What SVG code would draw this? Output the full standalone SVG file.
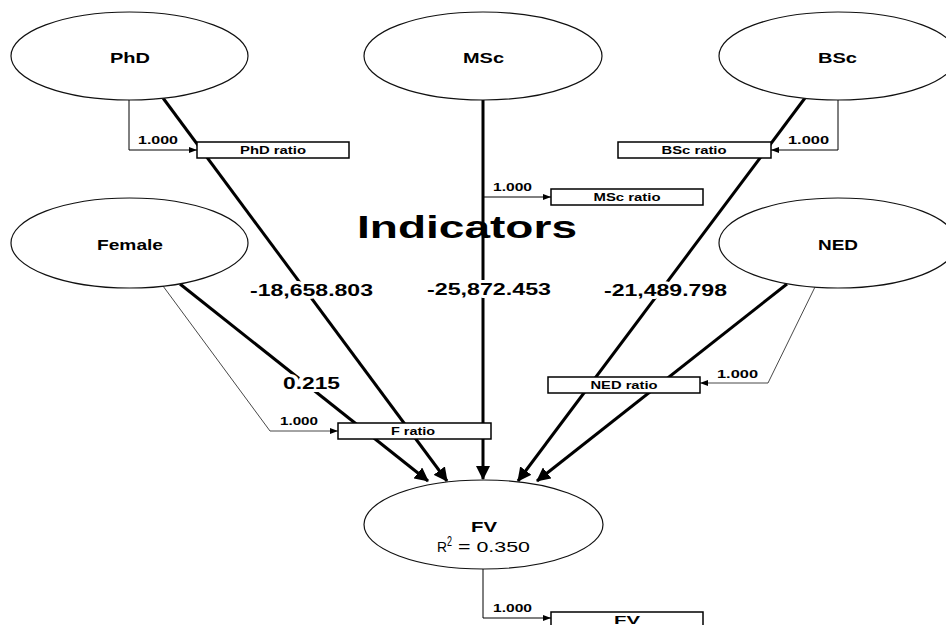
<svg xmlns="http://www.w3.org/2000/svg" width="946" height="625" viewBox="0 0 946 625">
  <style>
    .ell { fill: #ffffff; stroke: #111111; stroke-width: 1.2; }
    .box { fill: #ffffff; stroke: #000000; stroke-width: 1.5; }
    .thick { fill: none; stroke: #000000; stroke-width: 3; marker-end: url(#big); }
    .thin { fill: none; stroke: #000000; stroke-width: 1; marker-end: url(#small); }
    .thinf { fill: none; stroke: #333333; stroke-width: 0.9; marker-end: url(#small); }
    .nl { font-family: "Liberation Sans", Arial, sans-serif; font-weight: bold; font-size: 14px; text-anchor: middle; fill: #000; }
    .bl { font-family: "Liberation Sans", Arial, sans-serif; font-weight: bold; font-size: 10px; text-anchor: middle; fill: #000; }
    .ll { font-family: "Liberation Sans", Arial, sans-serif; font-weight: bold; font-size: 10px; fill: #000; }
    .coef { font-family: "Liberation Sans", Arial, sans-serif; font-weight: bold; font-size: 16px; fill: #000; stroke: #ffffff; stroke-width: 6; paint-order: stroke; stroke-linejoin: round; }
    .big { font-family: "Liberation Sans", Arial, sans-serif; font-weight: bold; font-size: 31px; fill: #000; }
    .r2 { font-family: "Liberation Sans", Arial, sans-serif; font-size: 14px; fill: #000; }
  </style>
  <defs>
    <marker id="big" markerUnits="userSpaceOnUse" markerWidth="14" markerHeight="14" viewBox="0 0 14 14" refX="13" refY="7" orient="auto">
      <path d="M0,0 L14,7 L0,14 z" fill="#000"/>
    </marker>
    <marker id="small" markerUnits="userSpaceOnUse" markerWidth="8" markerHeight="6" viewBox="0 0 8 6" refX="8" refY="3" orient="auto">
      <path d="M0,0 L8,3 L0,6 z" fill="#000"/>
    </marker>
  </defs>
  <rect width="946" height="625" fill="#ffffff"/>

  <text class="big" x="357" y="238" textLength="220" lengthAdjust="spacingAndGlyphs">Indicators</text>

  <g id="connectors">
    <path class="thin" d="M129,100 V150 H197"/>
    <path class="thin" d="M483,197 H551"/>
    <path class="thin" d="M838,100 V150 H771"/>
    <path class="thinf" d="M163,286 L270,431 H338"/>
    <path class="thinf" d="M815,287 L768,383 H700"/>
    <path class="thin" d="M483,569 V618 H551"/>

    <path class="thick" d="M163,98 L447,481"/>
    <path class="thick" d="M483,100 L483,479"/>
    <path class="thick" d="M805,98 L518,481"/>
    <path class="thick" d="M180,284 L428,481"/>
    <path class="thick" d="M787,284 L537,481"/>

    <text class="ll" x="138" y="144" textLength="40" lengthAdjust="spacingAndGlyphs">1.000</text>
    <text class="ll" x="493" y="191" textLength="39" lengthAdjust="spacingAndGlyphs">1.000</text>
    <text class="ll" x="788" y="144" textLength="41" lengthAdjust="spacingAndGlyphs">1.000</text>
    <text class="ll" x="280" y="425" textLength="38" lengthAdjust="spacingAndGlyphs">1.000</text>
    <text class="ll" x="717" y="378" textLength="41" lengthAdjust="spacingAndGlyphs">1.000</text>
    <text class="ll" x="493" y="612" textLength="39" lengthAdjust="spacingAndGlyphs">1.000</text>

    <text class="coef" x="250" y="296" textLength="123" lengthAdjust="spacingAndGlyphs">-18,658.803</text>
    <text class="coef" x="427" y="295" textLength="124" lengthAdjust="spacingAndGlyphs">-25,872.453</text>
    <text class="coef" x="604" y="296" textLength="123" lengthAdjust="spacingAndGlyphs">-21,489.798</text>
    <text class="coef" x="283" y="389" textLength="57" lengthAdjust="spacingAndGlyphs">0.215</text>
  </g>

  <g id="node-phd">
    <ellipse class="ell" cx="129.5" cy="56" rx="118.5" ry="44"/>
    <text class="nl" x="130" y="63" textLength="40" lengthAdjust="spacingAndGlyphs">PhD</text>
  </g>
  <g id="node-msc">
    <ellipse class="ell" cx="483" cy="56" rx="119" ry="44"/>
    <text class="nl" x="483.5" y="63" textLength="41" lengthAdjust="spacingAndGlyphs">MSc</text>
  </g>
  <g id="node-bsc">
    <ellipse class="ell" cx="838" cy="56" rx="119" ry="44"/>
    <text class="nl" x="837.5" y="63" textLength="39" lengthAdjust="spacingAndGlyphs">BSc</text>
  </g>
  <g id="node-female">
    <ellipse class="ell" cx="129.5" cy="243" rx="118.5" ry="45"/>
    <text class="nl" x="130" y="250" textLength="66" lengthAdjust="spacingAndGlyphs">Female</text>
  </g>
  <g id="node-ned">
    <ellipse class="ell" cx="838" cy="243" rx="119" ry="45"/>
    <text class="nl" x="838" y="250" textLength="40" lengthAdjust="spacingAndGlyphs">NED</text>
  </g>
  <g id="node-fv">
    <ellipse class="ell" cx="483.5" cy="524.5" rx="119.5" ry="44.5"/>
    <text class="nl" x="484" y="532" textLength="26" lengthAdjust="spacingAndGlyphs">FV</text>
    <text class="r2" x="437" y="552" textLength="10" lengthAdjust="spacingAndGlyphs">R</text>
    <text class="r2" x="447" y="546" font-size="9" textLength="5" lengthAdjust="spacingAndGlyphs">2</text>
    <text class="r2" x="458" y="552" textLength="72" lengthAdjust="spacingAndGlyphs">= 0.350</text>
  </g>

  <g id="box-phd-ratio">
    <rect class="box" x="197" y="142" width="152" height="16"/>
    <text class="bl" x="273" y="154" textLength="66" lengthAdjust="spacingAndGlyphs">PhD ratio</text>
  </g>
  <g id="box-msc-ratio">
    <rect class="box" x="551" y="189" width="152" height="16"/>
    <text class="bl" x="627" y="201" textLength="67" lengthAdjust="spacingAndGlyphs">MSc ratio</text>
  </g>
  <g id="box-bsc-ratio">
    <rect class="box" x="618" y="142" width="153" height="16"/>
    <text class="bl" x="694" y="154" textLength="65" lengthAdjust="spacingAndGlyphs">BSc ratio</text>
  </g>
  <g id="box-f-ratio">
    <rect class="box" x="338" y="423" width="153" height="16"/>
    <text class="bl" x="413" y="435" textLength="44" lengthAdjust="spacingAndGlyphs">F ratio</text>
  </g>
  <g id="box-ned-ratio">
    <rect class="box" x="548" y="377" width="152" height="16"/>
    <text class="bl" x="624" y="389" textLength="67" lengthAdjust="spacingAndGlyphs">NED ratio</text>
  </g>
  <g id="box-fv">
    <rect class="box" x="551" y="612" width="152" height="16"/>
    <text class="bl" x="627" y="624" textLength="26" lengthAdjust="spacingAndGlyphs">FV</text>
  </g>
</svg>
